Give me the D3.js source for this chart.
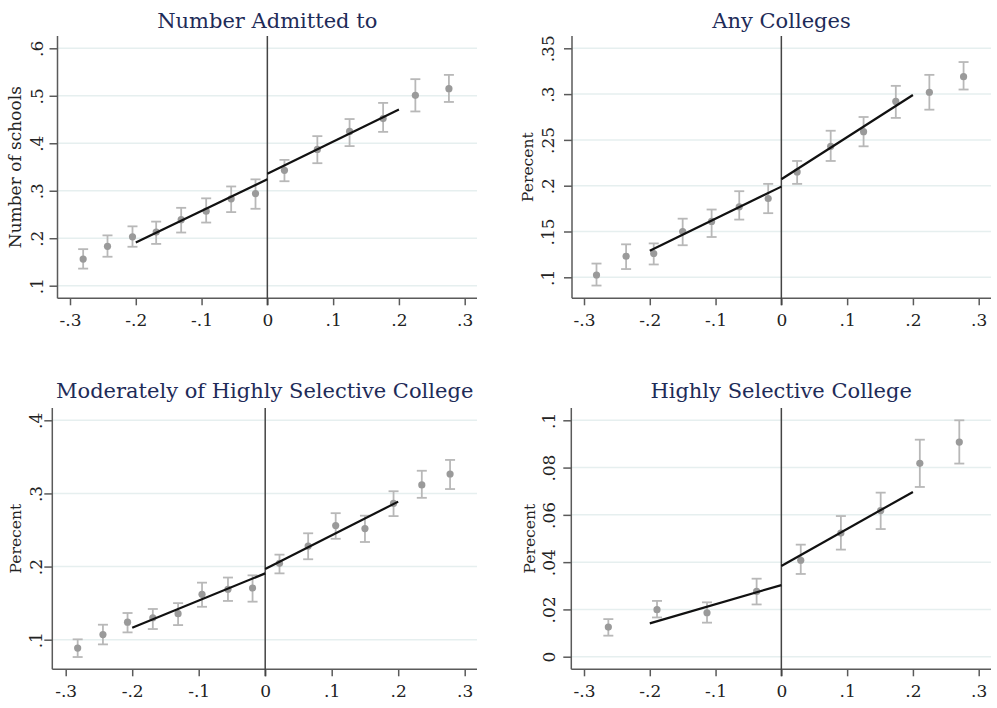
<!DOCTYPE html>
<html><head><meta charset="utf-8">
<script src="https://cdn.jsdelivr.net/npm/d3@7"></script>
<style>body{margin:0;background:#fff}svg{display:block}</style>
</head><body>
<svg id="chart" width="997" height="708"></svg>
<script>
// ---- Data ----
const titles = ["Number Admitted to", "Any Colleges", "Moderately of Highly Selective College", "Highly Selective College"];
const yTitles = ["Number of schools", "Perecent", "Perecent", "Perecent"];

const xTicks = [-0.3, -0.2, -0.1, 0, 0.1, 0.2, 0.3];
const xTickLabels = ["-.3", "-.2", "-.1", "0", ".1", ".2", ".3"];

const p1YTicks = [0.1, 0.2, 0.3, 0.4, 0.5, 0.6];
const p1YLabels = [".1", ".2", ".3", ".4", ".5", ".6"];
const p2YTicks = [0.1, 0.15, 0.2, 0.25, 0.3, 0.35];
const p2YLabels = [".1", ".15", ".2", ".25", ".3", ".35"];
const p3YTicks = [0.1, 0.2, 0.3, 0.4];
const p3YLabels = [".1", ".2", ".3", ".4"];
const p4YTicks = [0, 0.02, 0.04, 0.06, 0.08, 0.1];
const p4YLabels = ["0", ".02", ".04", ".06", ".08", ".1"];

// Panel 1: Number admitted
const p1X  = [-0.280, -0.243, -0.205, -0.169, -0.131, -0.093, -0.055, -0.018, 0.026, 0.076, 0.125, 0.176, 0.225, 0.276];
const p1Y  = [0.156, 0.183, 0.203, 0.213, 0.239, 0.257, 0.283, 0.294, 0.343, 0.387, 0.425, 0.452, 0.501, 0.515];
const p1Lo = [0.136, 0.161, 0.182, 0.188, 0.212, 0.233, 0.255, 0.262, 0.320, 0.358, 0.394, 0.424, 0.467, 0.487];
const p1Hi = [0.177, 0.206, 0.225, 0.235, 0.264, 0.284, 0.309, 0.324, 0.365, 0.415, 0.451, 0.485, 0.535, 0.544];
const p1FitL = [[-0.2, 0.191], [0, 0.324]];
const p1FitR = [[0, 0.336], [0.2, 0.471]];

// Panel 2: Any colleges
const p2X  = [-0.281, -0.236, -0.194, -0.150, -0.106, -0.064, -0.020, 0.024, 0.075, 0.125, 0.174, 0.225, 0.277];
const p2Y  = [0.1025, 0.123, 0.126, 0.150, 0.161, 0.177, 0.186, 0.215, 0.243, 0.259, 0.292, 0.302, 0.319];
const p2Lo = [0.091, 0.109, 0.114, 0.135, 0.144, 0.163, 0.170, 0.202, 0.227, 0.243, 0.274, 0.283, 0.305];
const p2Hi = [0.115, 0.136, 0.137, 0.164, 0.174, 0.194, 0.202, 0.227, 0.260, 0.275, 0.309, 0.321, 0.335];
const p2FitL = [[-0.2, 0.129], [0, 0.199]];
const p2FitR = [[0, 0.207], [0.2, 0.299]];

// Panel 3: Moderately or highly selective
const p3X  = [-0.282, -0.244, -0.207, -0.169, -0.131, -0.095, -0.056, -0.019, 0.0215, 0.0646, 0.106, 0.150, 0.193, 0.2355, 0.278];
const p3Y  = [0.0886, 0.107, 0.124, 0.130, 0.1356, 0.162, 0.169, 0.1707, 0.2044, 0.228, 0.256, 0.252, 0.2865, 0.3116, 0.3266];
const p3Lo = [0.0763, 0.0936, 0.110, 0.1146, 0.120, 0.145, 0.153, 0.152, 0.1907, 0.210, 0.238, 0.2336, 0.269, 0.294, 0.306];
const p3Hi = [0.1005, 0.1205, 0.1365, 0.142, 0.150, 0.178, 0.185, 0.188, 0.2163, 0.2455, 0.273, 0.2696, 0.303, 0.331, 0.3458];
const p3FitL = [[-0.2, 0.1164], [0, 0.1907]];
const p3FitR = [[0, 0.1967], [0.2, 0.2888]];

// Panel 4: Highly selective
const p4X  = [-0.263, -0.189, -0.113, -0.0376, 0.0295, 0.0905, 0.151, 0.2105, 0.2705];
const p4Y  = [0.01255, 0.0199, 0.0186, 0.0276, 0.0408, 0.0523, 0.0618, 0.0818, 0.0908];
const p4Lo = [0.0089, 0.0166, 0.0144, 0.0221, 0.035, 0.0453, 0.054, 0.0718, 0.0817];
const p4Hi = [0.0159, 0.0236, 0.023, 0.033, 0.0474, 0.0595, 0.0694, 0.0918, 0.1];
const p4FitL = [[-0.2, 0.0141], [0, 0.0303]];
const p4FitR = [[0, 0.0384], [0.2, 0.0697]];

// ---- Layout (positions only) ----
const layouts = [
  {axisX: 57.5, right: 477, top: 36, bottom: 298.3, xr: [70, 464.7], yd: [0.1, 0.6], yr: [285.7, 48.3], tickLabGap: 14.5, yTitleX: 21, titleY: 27.5},
  {axisX: 572, right: 991, top: 36, bottom: 298.3, xr: [584, 978.7], yd: [0.1, 0.35], yr: [277.3, 48.3], tickLabGap: 18, yTitleX: 533, titleY: 27.5},
  {axisX: 52.3, right: 477, top: 408, bottom: 669.3, xr: [65.7, 464.7], yd: [0.1, 0.4], yr: [639.7, 420.3], tickLabGap: 10, yTitleX: 21, titleY: 398},
  {axisX: 571.3, right: 991, top: 408, bottom: 669.3, xr: [584, 978.7], yd: [0, 0.1], yr: [656.7, 420.3], tickLabGap: 16, yTitleX: 535, titleY: 398}
];

const panelData = [
  {x: p1X, y: p1Y, lo: p1Lo, hi: p1Hi, fits: [p1FitL, p1FitR], yt: p1YTicks, yl: p1YLabels},
  {x: p2X, y: p2Y, lo: p2Lo, hi: p2Hi, fits: [p2FitL, p2FitR], yt: p2YTicks, yl: p2YLabels},
  {x: p3X, y: p3Y, lo: p3Lo, hi: p3Hi, fits: [p3FitL, p3FitR], yt: p3YTicks, yl: p3YLabels},
  {x: p4X, y: p4Y, lo: p4Lo, hi: p4Hi, fits: [p4FitL, p4FitR], yt: p4YTicks, yl: p4YLabels}
];

const svg = d3.select("#chart");
const serifFont = "'DejaVu Serif', serif";
const axisColor = "#5a5a5a";

panelData.forEach((pd, i) => {
  const L = layouts[i];
  const g = svg.append("g");
  const x = d3.scaleLinear().domain([-0.3, 0.3]).range(L.xr);
  const y = d3.scaleLinear().domain(L.yd).range(L.yr);

  // gridlines
  g.selectAll(".grid").data(pd.yt).join("line")
    .attr("x1", L.axisX).attr("x2", L.right)
    .attr("y1", d => y(d)).attr("y2", d => y(d))
    .attr("stroke", "#e6efef").attr("stroke-width", 1.5);

  // y axis
  const yAxis = d3.axisLeft(y).tickValues(pd.yt).tickFormat((d, k) => pd.yl[k]).tickSize(8).tickSizeOuter(0);
  const ya = g.append("g").attr("transform", `translate(${L.axisX},0)`).call(yAxis);
  ya.select(".domain").remove();
  ya.selectAll(".tick line").attr("stroke", axisColor).attr("stroke-width", 1.5);
  ya.selectAll(".tick text")
    .attr("x", null).attr("dy", null)
    .attr("transform", `translate(${-L.tickLabGap},0) rotate(-90)`)
    .attr("text-anchor", "middle")
    .attr("font-family", serifFont).attr("font-size", 17).attr("fill", "#222");
  g.append("line").attr("x1", L.axisX).attr("x2", L.axisX).attr("y1", L.top).attr("y2", L.bottom)
    .attr("stroke", axisColor).attr("stroke-width", 1.5);

  // x axis
  const xAxis = d3.axisBottom(x).tickValues(xTicks).tickFormat((d, k) => xTickLabels[k]).tickSize(7).tickSizeOuter(0);
  const xa = g.append("g").attr("transform", `translate(0,${L.bottom})`).call(xAxis);
  xa.select(".domain").remove();
  xa.selectAll(".tick line").attr("stroke", axisColor).attr("stroke-width", 1.5);
  xa.selectAll(".tick text").attr("y", 27.5).attr("dy", null)
    .attr("font-family", serifFont).attr("font-size", 17).attr("fill", "#222");
  g.append("line").attr("x1", L.axisX).attr("x2", L.right).attr("y1", L.bottom).attr("y2", L.bottom)
    .attr("stroke", axisColor).attr("stroke-width", 1.5);

  // vertical line at 0
  g.append("line").attr("x1", x(0)).attr("x2", x(0)).attr("y1", L.top).attr("y2", L.bottom + 7)
    .attr("stroke", "#444").attr("stroke-width", 1.5);

  // error bars
  const idx = d3.range(pd.x.length);
  const eb = g.append("g").attr("stroke", "#b8b8b8").attr("stroke-width", 1.8).attr("fill", "none");
  eb.selectAll(".v").data(idx).join("line")
    .attr("x1", k => x(pd.x[k])).attr("x2", k => x(pd.x[k]))
    .attr("y1", k => y(pd.lo[k])).attr("y2", k => y(pd.hi[k]));
  eb.selectAll(".ch").data(idx).join("line")
    .attr("x1", k => x(pd.x[k]) - 5).attr("x2", k => x(pd.x[k]) + 5)
    .attr("y1", k => y(pd.hi[k])).attr("y2", k => y(pd.hi[k]));
  eb.selectAll(".cl").data(idx).join("line")
    .attr("x1", k => x(pd.x[k]) - 5).attr("x2", k => x(pd.x[k]) + 5)
    .attr("y1", k => y(pd.lo[k])).attr("y2", k => y(pd.lo[k]));

  // points
  g.selectAll(".pt").data(idx).join("circle")
    .attr("cx", k => x(pd.x[k])).attr("cy", k => y(pd.y[k])).attr("r", 3.6)
    .attr("fill", "#9a9a9a");

  // fit lines
  const line = d3.line().x(d => x(d[0])).y(d => y(d[1]));
  pd.fits.forEach(f => {
    g.append("path").attr("d", line(f)).attr("fill", "none").attr("stroke", "#111").attr("stroke-width", 2.2);
  });

  // title
  g.append("text").attr("x", (L.axisX + L.right) / 2).attr("y", L.titleY)
    .attr("text-anchor", "middle").attr("font-family", serifFont).attr("font-size", 21)
    .attr("fill", "#1e2b58").text(titles[i]);

  // y title
  const yMid = (L.top + L.bottom) / 2;
  g.append("text").attr("transform", `translate(${L.yTitleX},${yMid}) rotate(-90)`)
    .attr("text-anchor", "middle")
    .attr("font-family", serifFont)
    .attr("font-size", i === 0 ? 17 : 15.5)
    .attr("fill", "#222").text(yTitles[i]);
});
</script>
</body></html>
